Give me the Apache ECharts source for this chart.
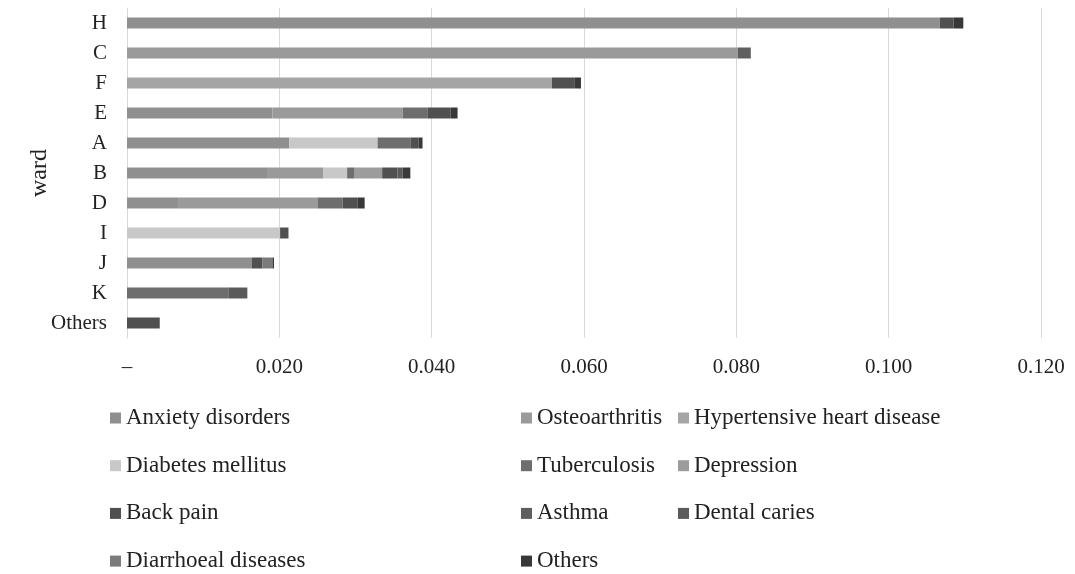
<!DOCTYPE html>
<html>
<head>
<meta charset="utf-8">
<script src="https://cdn.jsdelivr.net/npm/echarts@6/dist/echarts.min.js"></script>
<style>
  html, body { margin: 0; padding: 0; background: #fff; }
  #chart { width: 1075px; height: 574px; }
</style>
</head>
<body>
<div id="chart"></div>
<script>
// Wards, listed top to bottom
const wards = ['H', 'C', 'F', 'E', 'A', 'B', 'D', 'I', 'J', 'K', 'Others'];

// Value-axis ticks
const tickValues = [0, 0.02, 0.04, 0.06, 0.08, 0.1, 0.12];

// Per-disease values for each ward (same order as wards)
const anxietyDisorders   = [0.1067, 0,      0,      0.0191, 0.0213, 0.0185, 0.0067, 0,      0.0164, 0,      0];
const osteoarthritis     = [0,      0.0802, 0,      0.0171, 0,      0.0073, 0.0183, 0,      0,      0,      0];
const hypertensiveHeart  = [0,      0,      0.0558, 0,      0,      0,      0,      0,      0,      0,      0];
const diabetesMellitus   = [0,      0,      0,      0,      0.0116, 0.0031, 0,      0.0201, 0,      0,      0];
const tuberculosis       = [0,      0,      0,      0.0033, 0.0043, 0.0009, 0.0033, 0,      0,      0.0133, 0];
const depression         = [0,      0,      0,      0,      0,      0.0037, 0,      0,      0,      0,      0];
const backPain           = [0.0018, 0,      0.0030, 0.0030, 0.0011, 0.0020, 0.0020, 0.0011, 0.0014, 0,      0.0043];
const asthma             = [0,      0.0017, 0,      0,      0,      0,      0,      0,      0,      0,      0];
const dentalCaries       = [0,      0,      0,      0,      0,      0.0007, 0,      0,      0,      0.0025, 0];
const diarrhoealDiseases = [0,      0,      0,      0,      0,      0,      0,      0,      0.0013, 0,      0];
const otherDiseases      = [0.0013, 0,      0.0008, 0.0009, 0.0005, 0.0010, 0.0009, 0,      0.0002, 0,      0];

const seriesDefs = [
  { name: 'Anxiety disorders',          data: anxietyDisorders,   color: '#8f8f8f' },
  { name: 'Osteoarthritis',             data: osteoarthritis,     color: '#9a9a9a' },
  { name: 'Hypertensive heart disease', data: hypertensiveHeart,  color: '#a5a5a5' },
  { name: 'Diabetes mellitus',          data: diabetesMellitus,   color: '#c8c8c8' },
  { name: 'Tuberculosis',               data: tuberculosis,       color: '#6e6e6e' },
  { name: 'Depression',                 data: depression,         color: '#9c9c9c' },
  { name: 'Back pain',                  data: backPain,           color: '#505050' },
  { name: 'Asthma',                     data: asthma,             color: '#5f5f5f' },
  { name: 'Dental caries',              data: dentalCaries,       color: '#5a5a5a' },
  { name: 'Diarrhoeal diseases',        data: diarrhoealDiseases, color: '#7b7b7b' },
  { name: 'Others',                     data: otherDiseases,      color: '#383838' }
];

const serif = '"Liberation Serif", "Times New Roman", serif';

// Legend laid out in three columns, four rows
const legendColumns = [
  ['Anxiety disorders', 'Diabetes mellitus', 'Back pain', 'Diarrhoeal diseases'],
  ['Osteoarthritis', 'Tuberculosis', 'Asthma', 'Others'],
  ['Hypertensive heart disease', 'Depression', 'Dental caries']
];
const legendLefts = [110, 521, 678];

const chart = echarts.init(document.getElementById('chart'), null, { renderer: 'canvas' });

chart.setOption({
  animation: false,
  backgroundColor: '#ffffff',
  grid: { left: 127, right: 34, top: 8, bottom: 236, containLabel: false },
  xAxis: {
    type: 'value',
    min: tickValues[0],
    max: tickValues[tickValues.length - 1],
    interval: 0.02,
    axisLine: { show: false },
    axisTick: { show: false },
    splitLine: { show: true, lineStyle: { color: '#d9d9d9', width: 1 } },
    axisLabel: {
      margin: 19,
      color: '#222',
      fontFamily: serif,
      fontSize: 21,
      formatter: v => (v === 0 ? '–' : v.toFixed(3))
    }
  },
  yAxis: {
    type: 'category',
    data: wards,
    inverse: true,
    name: 'ward',
    nameLocation: 'middle',
    nameRotate: 90,
    nameGap: 75,
    nameMoveOverlap: false,
    nameTextStyle: { fontFamily: serif, fontSize: 24, color: '#222' },
    axisLine: { show: true, lineStyle: { color: '#d9d9d9' } },
    axisTick: { show: false },
    axisLabel: { margin: 20, color: '#222', fontFamily: serif, fontSize: 21 }
  },
  legend: legendColumns.map((names, i) => ({
    data: names,
    orient: 'vertical',
    left: legendLefts[i],
    top: 406,
    height: 168,
    icon: 'rect',
    itemWidth: 11,
    itemHeight: 11,
    itemGap: 23.7,
    padding: 0,
    textStyle: { fontFamily: serif, fontSize: 23, color: '#222', lineHeight: 24 }
  })),
  series: seriesDefs.map(s => ({
    name: s.name,
    type: 'bar',
    stack: 'total',
    barWidth: 11,
    data: s.data,
    itemStyle: { color: s.color },
    emphasis: { disabled: true }
  }))
});
</script>
</body>
</html>
